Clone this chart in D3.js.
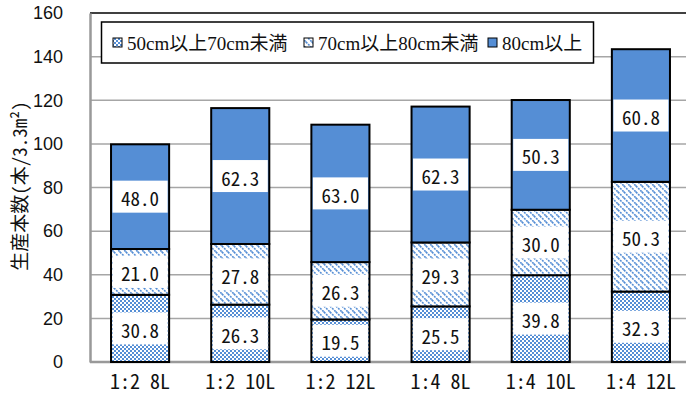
<!DOCTYPE html>
<html><head><meta charset="utf-8">
<script src="https://cdn.jsdelivr.net/npm/d3@7"></script>
<style>body{margin:0;background:#fff;}svg{display:block;}</style>
</head><body>
<svg id="chart" width="686" height="399"></svg>
<script>
const categories = ["1:2 8L","1:2 10L","1:2 12L","1:4 8L","1:4 10L","1:4 12L"];
const seriesNames = ["50cm以上70cm未満","70cm以上80cm未満","80cm以上"];
const s50_70 = [30.8, 26.3, 19.5, 25.5, 39.8, 32.3];
const s70_80 = [21.0, 27.8, 26.3, 29.3, 30.0, 50.3];
const s80up  = [48.0, 62.3, 63.0, 62.3, 50.3, 60.8];
const yTicks = [0,20,40,60,80,100,120,140,160];
const yTitle = "生産本数(本/3.3m²)";

(function(){
const svg = d3.select("#chart");
const blue = "#558ED5";
const mono = "Noto Sans Mono CJK JP, DejaVu Sans Mono, monospace";
const defs = svg.append("defs");
const pc = defs.append("pattern").attr("id","pCheck").attr("patternUnits","userSpaceOnUse").attr("width",4).attr("height",4);
pc.append("rect").attr("width",4).attr("height",4).attr("fill","#fff");
pc.append("rect").attr("width",2).attr("height",2).attr("fill",blue);
pc.append("rect").attr("x",2).attr("y",2).attr("width",2).attr("height",2).attr("fill",blue);
const pd = defs.append("pattern").attr("id","pDiag").attr("patternUnits","userSpaceOnUse").attr("width",6).attr("height",6);
pd.append("rect").attr("width",6).attr("height",6).attr("fill","#fff");
pd.append("path").attr("d","M0,0L6,6M-3,3L3,9M3,-3L9,3").attr("stroke",blue).attr("stroke-width",1.6).attr("stroke-dasharray","2,1");
const fills = ["url(#pCheck)","url(#pDiag)",blue];

const pLeft = 90, pRight = 691, pTop = 13, pBottom = 362;
const x = d3.scaleBand().domain(categories).range([pLeft,pRight]).paddingInner(0.42).paddingOuter(0.21);
const y = d3.scaleLinear().domain([0,160]).range([pBottom,pTop]);

svg.append("g").selectAll("line").data(yTicks.filter(d=>d>0 && d<160)).join("line")
  .attr("x1",pLeft).attr("x2",pRight).attr("y1",d=>y(d)).attr("y2",d=>y(d))
  .attr("stroke","#a6a6a6").attr("stroke-width",1.5);
svg.append("line").attr("x1",pLeft).attr("x2",pRight).attr("y1",y(160)).attr("y2",y(160)).attr("stroke","#000").attr("stroke-width",1.5);

const yAxis = svg.append("g").attr("transform",`translate(${pLeft},0)`)
  .call(d3.axisLeft(y).tickValues(yTicks).tickSize(0).tickPadding(27));
yAxis.select(".domain").attr("stroke","#999").attr("stroke-width",2.5);
yAxis.selectAll("text").attr("font-family","Liberation Sans, Arial, sans-serif").attr("font-size",18).attr("fill","#111");

const xAxis = svg.append("g").attr("transform",`translate(0,${pBottom})`)
  .call(d3.axisBottom(x).tickSize(0).tickPadding(13));
xAxis.select(".domain").attr("d",`M${pLeft},0H${pRight}`).attr("stroke","#999").attr("stroke-width",2.5);
xAxis.selectAll("text").attr("font-family",mono).attr("font-size",20).attr("fill","#111");

svg.append("text").attr("transform","translate(18,186) rotate(-90)")
  .attr("text-anchor","middle").attr("dominant-baseline","central")
  .attr("font-family",mono).attr("font-size",19).attr("fill","#111").text(yTitle);

const rows = categories.map((c,i)=>({cat:c, a:s50_70[i], b:s70_80[i], c:s80up[i]}));
const stack = d3.stack().keys(["a","b","c"])(rows);
const fmt = d3.format(".1f");

stack.forEach((layer,li)=>{
  svg.append("g").selectAll("rect").data(layer).join("rect")
    .attr("x",d=>x(d.data.cat)).attr("width",x.bandwidth())
    .attr("y",d=>y(d[1])).attr("height",d=>y(d[0])-y(d[1]))
    .attr("fill",fills[li]).attr("stroke","#000").attr("stroke-width",2);
});
stack.forEach((layer,li)=>{
  const g = svg.append("g");
  const bh = 32;
  g.selectAll("rect").data(layer).join("rect")
    .attr("x",d=>x(d.data.cat)+1.5).attr("width",x.bandwidth()-3)
    .attr("y",d=>(y(d[0])+y(d[1]))/2 - bh/2).attr("height",bh).attr("fill","#fff");
  g.selectAll("text").data(layer).join("text")
    .attr("x",d=>x(d.data.cat)+x.bandwidth()/2).attr("y",d=>(y(d[0])+y(d[1]))/2 + 1)
    .attr("text-anchor","middle").attr("dominant-baseline","central")
    .attr("font-family",mono).attr("font-size",19).attr("fill","#111")
    .text(d=>fmt(d[1]-d[0]));
});

const lg = svg.append("g");
lg.append("rect").attr("x",101.5).attr("y",22).attr("width",492).attr("height",41)
  .attr("fill","#fff").attr("stroke","#000").attr("stroke-width",1.5);
const legX = [113, 304, 488];
seriesNames.forEach((n,i)=>{
  lg.append("rect").attr("x",legX[i]).attr("y",38).attr("width",9).attr("height",9)
    .attr("fill",fills[i]).attr("stroke","#000").attr("stroke-width",1);
  lg.append("text").attr("x",legX[i]+14).attr("y",43).attr("dominant-baseline","central")
    .attr("font-family","Liberation Serif, Noto Sans CJK JP, serif").attr("font-size",19).attr("fill","#111").text(n);
});
})();
</script>
</body></html>
